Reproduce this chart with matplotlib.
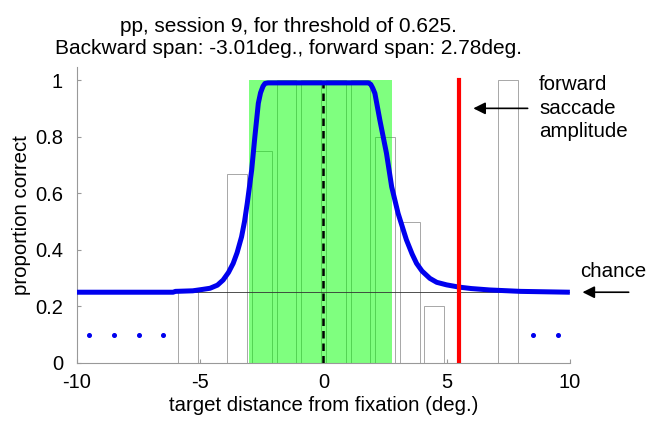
import matplotlib
matplotlib.use('Agg')
import matplotlib.pyplot as plt

plt.rcParams['font.family'] = ['Liberation Sans', 'DejaVu Sans']
plt.rcParams['axes.unicode_minus'] = False

# histogram of proportion correct per 1-deg bin
bin_centers = [-9.5, -8.5, -7.5, -6.5, -5.5, -4.5, -3.5, -2.5, -1.5, -0.5,
               0.5, 1.5, 2.5, 3.5, 4.5, 5.5, 6.5, 7.5, 8.5, 9.5]
bin_props = [0, 0, 0, 0, 0.25, 0, 0.667, 0.75, 1, 1,
             1, 1, 0.8, 0.5, 0.2, 0, 0, 1, 0, 0]
# bins without data
empty_x = [-9.5, -8.5, -7.5, -6.5, 8.5, 9.5]
empty_y = [0.1, 0.1, 0.1, 0.1, 0.1, 0.1]

# fitted curve
fit_x = [-10, -6.1, -6.0, -5.3, -4.9, -4.6, -4.3, -4.07, -3.85, -3.66, -3.5,
         -3.32, -3.2, -3.09, -2.91, -2.78, -2.64, -2.55, -2.45, -2.37, -2.25,
         1.82, 1.92, 2.0, 2.09, 2.29, 2.56, 2.77, 3.03, 3.37, 3.6, 3.78, 4.0,
         4.32, 4.6, 5.0, 5.51, 6.0, 6.75, 8.0, 10]
fit_y = [0.25, 0.25, 0.253, 0.255, 0.26, 0.264, 0.275, 0.293, 0.32, 0.352, 0.39,
         0.446, 0.50, 0.564, 0.682, 0.80, 0.918, 0.955, 0.978, 0.988, 0.99,
         0.99, 0.985, 0.972, 0.953, 0.859, 0.741, 0.623, 0.529, 0.435, 0.385,
         0.352, 0.325, 0.299, 0.285, 0.276, 0.268, 0.263, 0.258, 0.253, 0.25]

back_span = -3.01
fwd_span = 2.78
saccade_amp = 5.52
chance = 0.25

fig = plt.figure(figsize=(6.52, 4.28), dpi=100)
ax = fig.add_axes([0.118, 0.152, 0.756, 0.692])

ax.bar(bin_centers, bin_props, width=0.8, facecolor='none',
       edgecolor='#999999', linewidth=0.6, zorder=1)
ax.fill_between([back_span, fwd_span], 0, 1, color=(0, 1, 0), alpha=0.5,
                linewidth=0, zorder=2)
ax.axhline(chance, color='#333333', linewidth=0.6, zorder=3)
ax.plot([0, 0], [0, 1], color='black', linestyle='--', linewidth=1.8,
        dashes=(3, 2), zorder=3)
ax.plot(fit_x, fit_y, color='#0000ee', linewidth=3.6, zorder=4,
        solid_capstyle='butt', solid_joinstyle='round')
ax.plot([saccade_amp, saccade_amp], [0, 1], color='#ff0000', linewidth=3,
        zorder=5)
ax.plot(empty_x, empty_y, linestyle='none', marker='o', markersize=2.6,
        color='#0000ee', zorder=5)

ax.set_xlim(-10, 10)
ax.set_ylim(0, 1.047)
ax.set_xticks([-10, -5, 0, 5, 10])
ax.set_yticks([0, 0.2, 0.4, 0.6, 0.8, 1])
ax.set_yticklabels(['0', '0.2', '0.4', '0.6', '0.8', '1'])
ax.tick_params(direction='in', length=3, color='#999999', labelsize=14.5)
ax.tick_params(axis='y', pad=10)
ax.tick_params(axis='x', pad=7)
for s in ['top', 'right']:
    ax.spines[s].set_visible(False)
for s in ['left', 'bottom']:
    ax.spines[s].set_color('#999999')
    ax.spines[s].set_linewidth(0.8)

ax.set_xlabel('target distance from fixation (deg.)', fontsize=14.7, labelpad=3)
ax.set_ylabel('proportion correct', fontsize=14.7, labelpad=3)
ax.set_title('pp, session 9, for threshold of 0.625.\n'
             'Backward span: -3.01deg., forward span: 2.78deg.',
             fontsize=15, pad=9, linespacing=1.2, x=0.43)

ax.annotate('', xy=(5.97, 0.9), xytext=(8.4, 0.9),
            arrowprops=dict(arrowstyle='-|>', color='black', lw=1.2,
                            mutation_scale=18),
            annotation_clip=False)
ax.text(8.75, 0.9, 'forward\nsaccade\namplitude', fontsize=14.8,
        va='center', ha='left', linespacing=1.3, clip_on=False)
ax.annotate('', xy=(10.4, chance), xytext=(12.5, chance),
            arrowprops=dict(arrowstyle='-|>', color='black', lw=1.2,
                            mutation_scale=18),
            annotation_clip=False)
ax.text(10.4, chance + 0.075, 'chance', fontsize=14.8, va='center',
        ha='left', clip_on=False)

fig.savefig('out.png', dpi=100)
